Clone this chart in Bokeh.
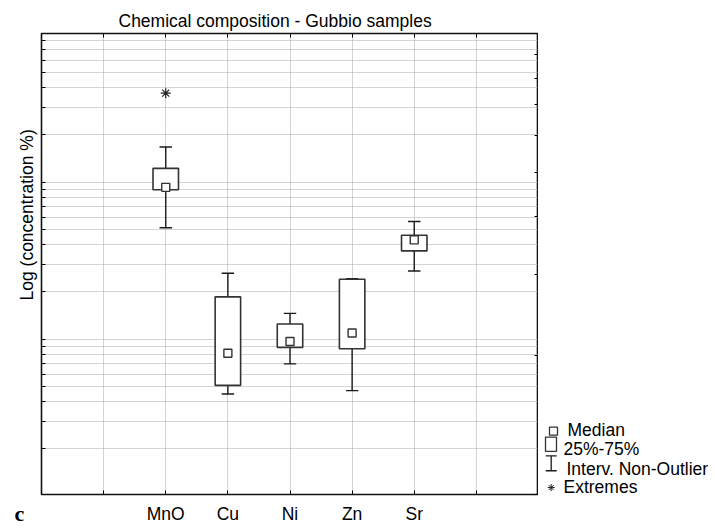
import math
from bokeh.plotting import figure
from bokeh.layouts import row
from bokeh.models import Range1d, LinearAxis, FixedTicker, Title
from bokeh.core.properties import value
from bokeh.embed import file_html
from bokeh.resources import INLINE

# ---- data (concentration in %) ----
elements = ["MnO", "Cu", "Ni", "Zn", "Sr"]
whisker_low = [0.0513, 0.00448, 0.00696, 0.00470, 0.0272]
q1 = [0.0894, 0.00508, 0.00887, 0.00869, 0.0365]
median = [0.0927, 0.00813, 0.00967, 0.01096, 0.0429]
q3 = [0.1225, 0.0186, 0.0125, 0.0241, 0.0459]
whisker_high = [0.1676, 0.0263, 0.0146, 0.0243, 0.0562]
extreme_element = ["MnO"]
extreme_value = [0.369]
legend_labels = ["Median", "25%-75%", "Interv. Non-Outlier", "Extremes"]
title_text = "Chemical composition - Gubbio samples"
y_title = "Log (concentration %)"
panel_letter = "c"

# ---- layout ----
N_SLOTS = 8
FIRST_SLOT = 2
xs = [FIRST_SLOT + i for i in range(len(elements))]
ext_x = [xs[elements.index(e)] for e in extreme_element]

W, H = 715, 528
L, R, T, B = 41, 538, 33, 499
Y_LO, Y_HI = 1.025e-3, 0.885
FONT = "Liberation Sans"
FS = "17.5px"
BOX_W = 0.41
CAP_W = 0.2
INK = "#1a1a1a"
BOX_INK = "#333333"

p = figure(width=R, height=H, x_range=Range1d(0, N_SLOTS),
           y_range=Range1d(Y_LO, Y_HI), y_axis_type="log",
           output_backend="svg", toolbar_location=None,
           min_border_left=L, min_border_right=0,
           min_border_top=T, min_border_bottom=H - B)
p.outline_line_color = "#111111"
p.outline_line_width = 1.6
p.background_fill_color = "white"
p.border_fill_color = "white"

x_ticks = list(range(0, N_SLOTS + 1))
y_ticks = [k * 10.0 ** d for d in range(-4, 1) for k in range(1, 10)
           if Y_LO <= k * 10.0 ** d <= Y_HI]


def quiet_axis(ax, ticks):
    ax.ticker = FixedTicker(ticks=ticks)
    ax.major_label_overrides = {t: "" for t in ticks}
    ax.major_label_text_font_size = "0px"
    ax.major_label_standoff = 0
    ax.major_tick_in = 4
    ax.major_tick_out = 0
    ax.minor_tick_in = 0
    ax.minor_tick_out = 0
    ax.axis_line_color = None
    ax.major_tick_line_color = "black"


# bottom axis with element names
xa = p.xaxis[0]
quiet_axis(xa, x_ticks)
over = {t: "" for t in x_ticks}
for xv, name in zip(xs, elements):
    over[xv] = name
xa.major_label_overrides = over
xa.major_label_text_font = FONT
xa.major_label_text_font_size = FS
xa.major_label_text_color = "black"
xa.major_label_standoff = 9

# panel letter: bottom-axis label pulled up into the tick-label row
xa.axis_label = panel_letter + "\u00a0" * 8
xa.axis_label_align = "start"
xa.axis_label_text_align = "right"
xa.axis_label_text_font = "Liberation Serif"
xa.axis_label_text_font_style = "bold"
xa.axis_label_text_font_size = "22px"
xa.axis_label_text_color = "black"
xa.axis_label_standoff = -26

# left axis
quiet_axis(p.yaxis[0], y_ticks)

# top axis
top = LinearAxis()
quiet_axis(top, x_ticks)
p.add_layout(top, "above")

# right axis (equal divisions)
p.extra_y_ranges = {"r": Range1d(0, 10)}
right = LinearAxis(y_range_name="r")
quiet_axis(right, list(range(1, 10)))
p.add_layout(right, "right")

# grids
p.xgrid.ticker = FixedTicker(ticks=x_ticks)
p.ygrid.ticker = FixedTicker(ticks=y_ticks)
for g in (p.xgrid[0], p.ygrid[0]):
    g.grid_line_color = "#a8a8a8"
    g.grid_line_dash = "1 1"
    g.grid_line_width = 1

# whiskers
p.segment(x0=xs, y0=q3, x1=xs, y1=whisker_high, line_color=INK, line_width=1.4)
p.segment(x0=xs, y0=whisker_low, x1=xs, y1=q1, line_color=INK, line_width=1.4)
p.segment(x0=[x - CAP_W / 2 for x in xs], y0=whisker_high,
          x1=[x + CAP_W / 2 for x in xs], y1=whisker_high,
          line_color=INK, line_width=1.4)
p.segment(x0=[x - CAP_W / 2 for x in xs], y0=whisker_low,
          x1=[x + CAP_W / 2 for x in xs], y1=whisker_low,
          line_color=INK, line_width=1.4)
# boxes
p.vbar(x=xs, width=BOX_W, bottom=q1, top=q3, fill_color="white",
       line_color=BOX_INK, line_width=1.6)
# medians
p.scatter(x=xs, y=median, marker="square", size=8, fill_color="white",
          line_color=BOX_INK, line_width=1.4)
# extremes
p.scatter(x=ext_x, y=extreme_value, marker="asterisk", size=10,
          line_color="#222222", line_width=1.2)

# title (above)
p.title.text = title_text
p.title.align = "left"
p.title.offset = 77
p.title.standoff = 6
p.title.text_font = FONT
p.title.text_font_size = FS
p.title.text_font_style = "normal"
p.title.text_color = "black"

# y axis title (left)
p.add_layout(Title(text=y_title, align="left", offset=194, standoff=10,
                   text_font=FONT, text_font_size=FS, text_font_style="normal",
                   text_color="black"), "left")

# ---- key panel to the right of the chart ----
k = figure(width=W - R, height=H, x_range=Range1d(R, W), y_range=Range1d(B, T),
           x_axis_location=None, y_axis_location=None,
           output_backend="svg", toolbar_location=None,
           min_border_left=0, min_border_right=0, min_border_top=T,
           min_border_bottom=H - B)
k.outline_line_color = None
k.grid.visible = False
k.background_fill_color = "white"
k.border_fill_color = "white"

key_baseline = [433.5, 453.5, 473.5, 491.5]
key_text_x = [567, 563, 566, 563]
# median symbol
k.scatter(x=[553], y=[key_baseline[0] + 1.5], marker="square", size=8,
          fill_color="white", line_color=BOX_INK, line_width=1.3)
# box symbol
k.quad(left=[545], right=[556], top=[key_baseline[1] - 12.5],
       bottom=[key_baseline[1] + 2], fill_color="white", line_color=BOX_INK,
       line_width=1.3)
# whisker symbol (I-beam)
wx = 550.7
wy0, wy1 = key_baseline[2] - 13.5, key_baseline[2] + 1.5
k.segment(x0=[wx, wx - 5.5, wx - 5.5], y0=[wy0, wy0, wy1],
          x1=[wx, wx + 5.5, wx + 5.5], y1=[wy1, wy0, wy1],
          line_color=INK, line_width=1.3)
# extreme symbol
k.scatter(x=[wx], y=[key_baseline[3] + 0.5], marker="asterisk", size=7,
          line_color="#222222", line_width=1.0)
k.text(x=key_text_x, y=key_baseline, text=legend_labels,
       text_font=value(FONT), text_font_size=value(FS), text_color="black",
       text_align="left", text_baseline="alphabetic")

layout = row(p, k, spacing=0)
open("out.html", "w").write(file_html(layout, INLINE))
